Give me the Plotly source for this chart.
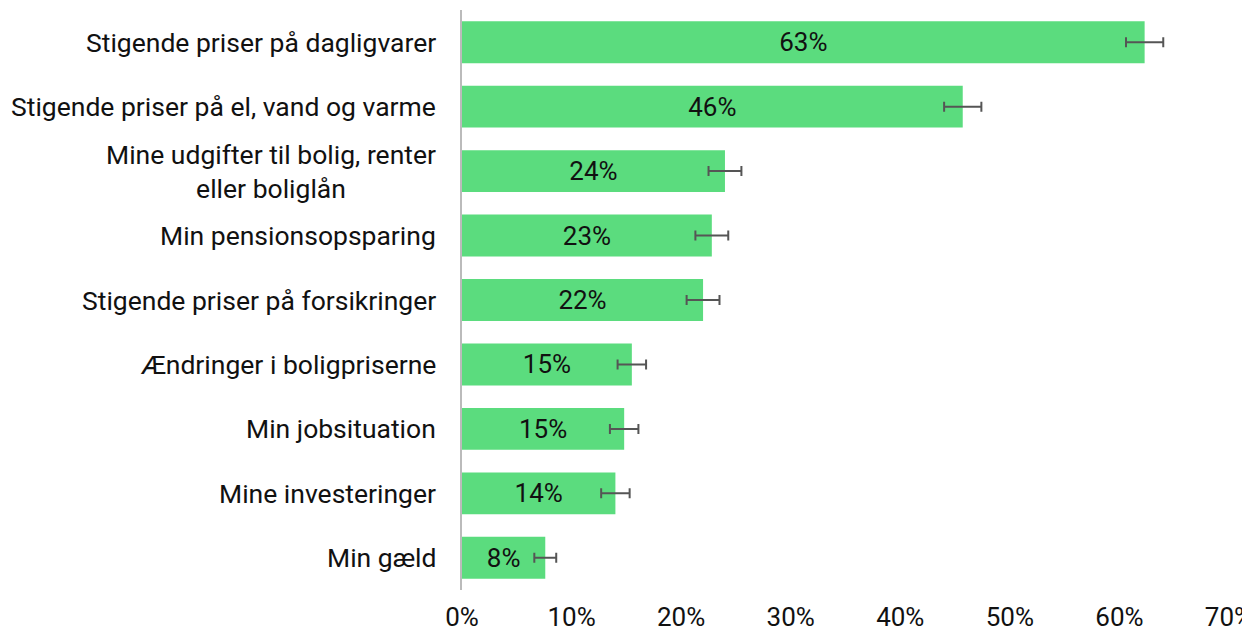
import plotly.graph_objects as go

categories = [
    "Stigende priser på dagligvarer",
    "Stigende priser på el, vand og varme",
    "Mine udgifter til bolig, renter<br>eller boliglån",
    "Min pensionsopsparing",
    "Stigende priser på forsikringer",
    "Ændringer i boligpriserne",
    "Min jobsituation",
    "Mine investeringer",
    "Min gæld",
]
values = [62.3, 45.7, 24.0, 22.8, 22.0, 15.5, 14.8, 14.0, 7.6]
labels = ["63%", "46%", "24%", "23%", "22%", "15%", "15%", "14%", "8%"]
errors = [1.7, 1.7, 1.5, 1.5, 1.5, 1.3, 1.3, 1.3, 1.0]
x_ticks = [0, 10, 20, 30, 40, 50, 60, 70]
x_tick_labels = ["0%", "10%", "20%", "30%", "40%", "50%", "60%", "70%"]

FONT = "Roboto"
FS = 26
cat_ids = list(range(len(categories)))

fig = go.Figure()
fig.add_trace(go.Bar(
    y=cat_ids,
    x=values,
    orientation="h",
    marker=dict(color="#5bdc7e", line=dict(width=0)),
    text=labels,
    textposition="inside",
    insidetextanchor="middle",
    textfont=dict(family=FONT, size=FS, color="#111111"),
    error_x=dict(type="data", array=errors, color="#555555", thickness=2, width=5),
    hoverinfo="skip",
))

for i, c in enumerate(categories):
    fig.add_annotation(
        x=0, xref="paper", y=i, yref="y",
        text=c, showarrow=False,
        xanchor="right", yanchor="middle", align="center",
        xshift=-24,
        font=dict(family=FONT, size=26.5, color="#111111"),
    )

fig.update_layout(
    width=1250, height=633,
    margin=dict(l=454, r=29, t=2, b=51),
    paper_bgcolor="white", plot_bgcolor="white",
    bargap=0.35,
    showlegend=False,
    font=dict(family=FONT, size=FS, color="#111111"),
)
fig.update_xaxes(
    range=[0, 70], tickvals=x_ticks, ticktext=x_tick_labels,
    showgrid=False, zeroline=False, showline=False, ticks="",
    tickfont=dict(family=FONT, size=FS, color="#111111"),
    ticklabelstandoff=9, automargin=False,
)
fig.update_yaxes(
    tickvals=cat_ids, showticklabels=False, autorange="reversed",
    range=[len(categories) - 0.5, -0.5],
    showgrid=False, zeroline=False, showline=True, linecolor="#bbbbbb", linewidth=2,
    ticks="", automargin=False,
)

fig.write_html("out.html")
